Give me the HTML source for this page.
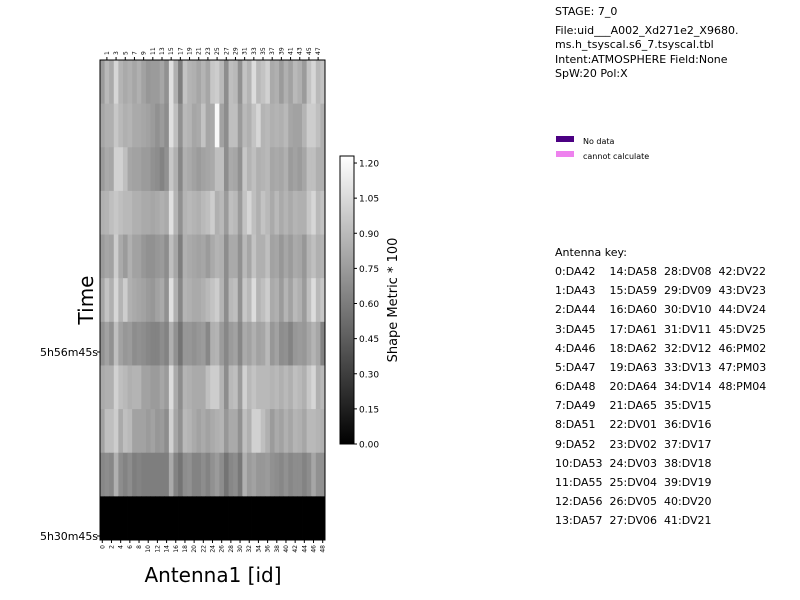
<!DOCTYPE html>
<html><head><meta charset="utf-8"><style>
body{margin:0;background:#fff;font-family:"Liberation Sans","DejaVu Sans",sans-serif;}
#c{position:absolute;left:0;top:0}
.t{position:absolute;font-size:11px;color:#000;white-space:pre;font-family:"DejaVu Sans","Liberation Sans",sans-serif}
</style></head><body>
<svg id="c" width="800" height="600"></svg>
<div class="t" style="left:555px;top:5px">STAGE: 7_0</div>
<div class="t" style="left:555px;top:24px;line-height:14.3px">File:uid___A002_Xd271e2_X9680.
ms.h_tsyscal.s6_7.tsyscal.tbl
Intent:ATMOSPHERE Field:None
SpW:20 Pol:X</div>
<div style="position:absolute;left:556px;top:136px;width:18px;height:6px;background:#4b0082"></div>
<div class="t" style="left:583px;top:137px;font-size:8px">No data</div>
<div style="position:absolute;left:556px;top:151px;width:18px;height:6px;background:#ee82ee"></div>
<div class="t" style="left:583px;top:152px;font-size:8px">cannot calculate</div>
<div class="t" style="left:555px;top:243px;line-height:19.15px">Antenna key:
0:DA42    14:DA58  28:DV08  42:DV22
1:DA43    15:DA59  29:DV09  43:DV23
2:DA44    16:DA60  30:DV10  44:DV24
3:DA45    17:DA61  31:DV11  45:DV25
4:DA46    18:DA62  32:DV12  46:PM02
5:DA47    19:DA63  33:DV13  47:PM03
6:DA48    20:DA64  34:DV14  48:PM04
7:DA49    21:DA65  35:DV15
8:DA51    22:DV01  36:DV16
9:DA52    23:DV02  37:DV17
10:DA53  24:DV03  38:DV18
11:DA55  25:DV04  39:DV19
12:DA56  26:DV05  40:DV20
13:DA57  27:DV06  41:DV21</div>
<script>
const antennas = Array.from({length:49},(_,i)=>i);
const rows = [
[0.75,0.89,0.82,1.03,0.87,0.82,0.85,0.80,0.85,0.78,0.73,0.75,0.75,0.80,0.70,1.08,0.85,0.61,0.94,0.87,0.85,0.80,0.87,0.80,0.96,0.99,0.89,0.68,0.92,0.89,0.70,0.94,0.87,1.06,0.89,0.94,1.01,0.82,0.85,0.75,0.85,0.78,0.89,0.85,0.75,0.94,1.03,0.89,0.94],
[0.80,0.85,0.85,0.96,0.89,0.85,0.87,0.82,0.82,0.80,0.78,0.75,0.70,0.75,0.68,1.08,0.92,0.70,0.89,0.87,0.80,0.82,0.94,0.80,0.82,1.20,0.78,0.68,0.92,0.92,0.75,0.89,0.85,0.94,1.03,0.87,0.89,0.85,0.87,0.85,0.89,0.80,0.78,0.78,0.87,0.99,0.99,0.92,0.85],
[0.75,0.82,0.80,1.01,1.01,0.92,0.80,0.78,0.78,0.75,0.75,0.70,0.68,0.63,0.70,0.96,0.85,0.65,0.85,0.82,0.78,0.75,0.78,0.80,0.82,0.92,0.92,0.68,0.82,0.80,0.70,0.96,0.87,0.92,0.85,0.87,0.89,0.80,0.82,0.80,0.85,0.75,0.78,0.75,0.80,0.92,0.92,0.85,0.85],
[0.85,0.87,0.92,0.96,0.92,0.89,0.89,0.85,0.85,0.82,0.82,0.80,0.82,0.85,0.82,1.08,0.87,0.70,0.87,0.89,0.87,0.85,0.89,0.92,0.99,0.85,0.89,0.75,0.92,0.89,0.75,0.94,1.03,0.92,0.85,0.94,0.89,0.82,0.89,0.82,0.87,0.82,0.87,0.85,0.85,0.96,1.03,0.89,0.94],
[0.75,0.80,0.78,0.99,0.82,0.75,0.85,0.78,0.78,0.73,0.70,0.70,0.73,0.75,0.68,0.92,0.80,0.61,0.85,0.82,0.80,0.78,0.80,0.75,0.82,0.87,0.85,0.68,0.82,0.82,0.70,0.89,0.80,0.94,0.85,0.85,0.92,0.78,0.80,0.73,0.80,0.75,0.82,0.80,0.73,0.87,0.92,0.85,0.87],
[0.80,0.94,0.85,1.03,0.87,0.99,0.85,0.82,0.80,0.78,0.75,0.73,0.78,0.82,0.70,1.08,0.85,0.65,0.87,0.85,0.82,0.82,0.85,0.89,0.94,0.99,0.87,0.68,0.89,0.92,0.70,0.96,0.89,1.06,0.87,0.92,0.99,0.82,0.85,0.75,0.87,0.78,0.89,0.85,0.75,0.92,1.06,0.89,0.96],
[0.70,0.78,0.70,0.92,0.78,0.73,0.75,0.68,0.70,0.68,0.65,0.63,0.63,0.68,0.63,0.85,0.70,0.56,0.73,0.73,0.70,0.73,0.75,0.65,0.85,0.87,0.75,0.65,0.75,0.78,0.65,0.82,0.78,0.85,0.78,0.80,0.89,0.73,0.78,0.68,0.70,0.63,0.73,0.75,0.73,0.80,0.87,0.80,0.63],
[0.82,0.85,0.85,1.01,0.92,0.89,0.85,0.87,0.87,0.78,0.78,0.75,0.75,0.80,0.75,1.06,0.82,0.68,0.87,0.85,0.82,0.82,0.82,0.92,0.99,0.99,0.87,0.68,0.89,0.92,0.75,1.01,0.89,0.94,0.89,0.89,0.89,0.87,0.89,0.85,0.89,0.85,0.92,0.89,0.85,0.96,1.03,0.85,0.89],
[0.78,0.92,0.92,0.99,0.82,0.92,0.89,0.78,0.78,0.78,0.75,0.78,0.73,0.75,0.68,1.01,0.80,0.70,0.89,0.87,0.82,0.78,0.82,0.78,0.82,0.85,0.87,0.73,0.82,0.82,0.70,0.92,0.85,1.01,1.01,0.92,0.85,0.75,0.82,0.78,0.85,0.80,0.87,0.85,0.80,0.89,0.89,0.87,0.85],
[0.65,0.68,0.65,0.85,0.68,0.63,0.68,0.61,0.63,0.61,0.61,0.61,0.61,0.61,0.61,0.82,0.63,0.56,0.68,0.70,0.63,0.63,0.68,0.63,0.70,0.75,0.68,0.56,0.65,0.68,0.58,0.85,0.75,0.78,0.73,0.73,0.75,0.70,0.68,0.65,0.70,0.65,0.68,0.68,0.63,0.68,0.80,0.70,0.70],
[0,0,0,0,0,0,0,0,0,0,0,0,0,0,0,0,0,0,0,0,0,0,0,0,0,0,0,0,0,0,0,0,0,0,0,0,0,0,0,0,0,0,0,0,0,0,0,0,0]
];
const cbTicks = [0,0.15,0.30,0.45,0.60,0.75,0.90,1.05,1.20];
const vmax = 1.23;
const NS='http://www.w3.org/2000/svg';
const svg=document.getElementById('c');
function el(t,a,p){const e=document.createElementNS(NS,t);for(const k in a)e.setAttribute(k,a[k]);(p||svg).appendChild(e);return e;}
const X0=100,X1=325,Y0=60,Y1=540;
const cw=(X1-X0)/antennas.length, rh=(Y1-Y0)/rows.length;
const xs=i=>X0+i*cw, ys=r=>Y0+r*rh;
function gray(v){const g=Math.round(Math.max(0,Math.min(1,v/vmax))*255);return `rgb(${g},${g},${g})`;}
const hm=el('g',{});


rows.forEach((row,r)=>row.forEach((v,i)=>{
  const c=el('rect',{x:xs(i),y:ys(r),width:cw+0.4,height:rh+0.4,fill:gray(v)},hm);
  
  
}));
const fr=el('rect',{x:X0,y:Y0,width:X1-X0,height:Y1-Y0,fill:'none',stroke:'#000','stroke-width':1});


antennas.forEach(i=>{
  const cx=xs(i)+cw/2;
  if(i%2===0){
    el('line',{x1:cx,y1:Y1,x2:cx,y2:Y1+3,stroke:'#000'});
    const t=el('text',{x:0,y:0,'font-size':6,'text-anchor':'end',transform:`translate(${cx+2},${Y1+5}) rotate(-90)`,'font-family':'DejaVu Sans, sans-serif'});
    t.textContent=i;
    
    
  } else {
    el('line',{x1:cx,y1:Y0,x2:cx,y2:Y0-3,stroke:'#000'});
    const t=el('text',{x:0,y:0,'font-size':6,'text-anchor':'start',transform:`translate(${cx+2},${Y0-5}) rotate(-90)`,'font-family':'DejaVu Sans, sans-serif'});
    t.textContent=i;
    
    
  }
});
[[352,'5h56m45s'],[536,'5h30m45s']].forEach(([y,s])=>{
  el('line',{x1:X0,y1:y,x2:X0-3,y2:y,stroke:'#000'});
  const t=el('text',{x:X0-2,y:y+4,'font-size':11,'text-anchor':'end','font-family':'DejaVu Sans, sans-serif',textLength:58});
  t.textContent=s;
  
  
});
let t=el('text',{x:0,y:0,'font-size':20,'text-anchor':'middle',transform:'translate(93,300) rotate(-90)','font-family':'DejaVu Sans, sans-serif'});
t.textContent='Time';


t=el('text',{x:213,y:582,'font-size':20,'text-anchor':'middle','font-family':'DejaVu Sans, sans-serif'});
t.textContent='Antenna1 [id]';


const CB0=340,CBW=14,CBT=156,CBB=444;
const defs=el('defs',{});
const lg=el('linearGradient',{id:'g',x1:0,y1:1,x2:0,y2:0},defs);
el('stop',{offset:0,'stop-color':'#000'},lg);el('stop',{offset:1,'stop-color':'#fff'},lg);
const cb=el('rect',{x:CB0,y:CBT,width:CBW,height:CBB-CBT,fill:'url(#g)',stroke:'#000','stroke-width':1});


const cy=v=>CBB-(v/vmax)*(CBB-CBT);
cbTicks.forEach(v=>{
  el('line',{x1:CB0+CBW,y1:cy(v),x2:CB0+CBW+3,y2:cy(v),stroke:'#000'});
  const tt=el('text',{x:CB0+CBW+5,y:cy(v)+3.5,'font-size':9,'font-family':'DejaVu Sans, sans-serif'});
  tt.textContent=v.toFixed(2);
  
  
});
t=el('text',{x:0,y:0,'font-size':13,'text-anchor':'middle',transform:`translate(397,300) rotate(-90)`,'font-family':'DejaVu Sans, sans-serif'});
t.textContent='Shape Metric * 100';


</script>
</body></html>
